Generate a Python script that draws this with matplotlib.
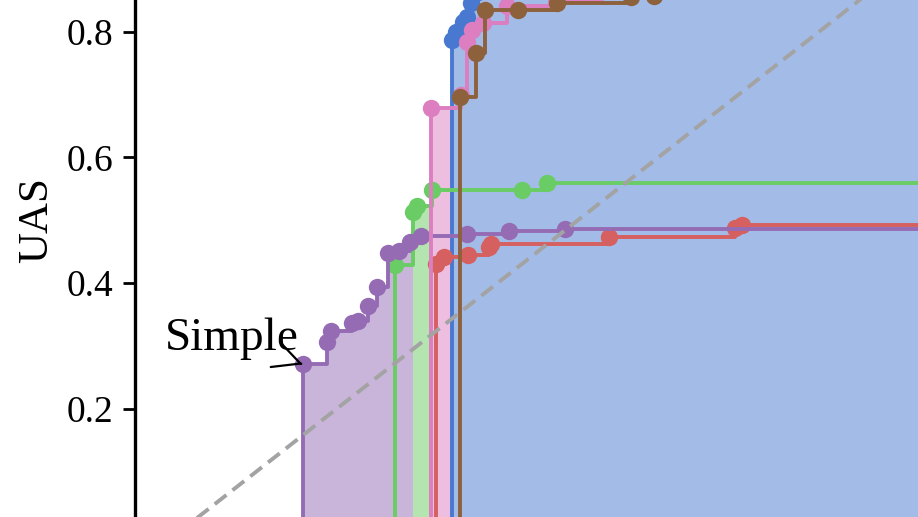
import numpy as np
import matplotlib
matplotlib.use("Agg")
import matplotlib.pyplot as plt

# ---------------- data ----------------
blue_x = [0.3427, 0.3483, 0.3570, 0.3619, 0.3669, 0.3756]
blue_y = [0.7866, 0.7994, 0.8153, 0.8232, 0.8455, 0.8630]

green_x = [0.2724, 0.2948, 0.2998, 0.3184, 0.4303, 0.4614]
green_y = [0.4286, 0.5130, 0.5225, 0.5480, 0.5485, 0.5596]

red_x = [0.3234, 0.3333, 0.3632, 0.3893, 0.3918, 0.5386, 0.6953, 0.7040]
red_y = [0.4302, 0.4414, 0.4446, 0.4573, 0.4620, 0.4737, 0.4870, 0.4925]

purple_x = [0.1576, 0.1874, 0.1924, 0.2185, 0.2264, 0.2384, 0.2496, 0.2637,
            0.2774, 0.2910, 0.3047, 0.3619, 0.4142, 0.4838]
purple_y = [0.2705, 0.3066, 0.3236, 0.3368, 0.3395, 0.3634, 0.3936, 0.4477,
            0.4509, 0.4653, 0.4748, 0.4780, 0.4828, 0.4854]

pink_x = [0.3172, 0.3545, 0.3619, 0.3682, 0.3818, 0.4117, 0.4726, 0.5274]
pink_y = [0.6784, 0.6992, 0.7838, 0.8026, 0.8138, 0.8400, 0.8479, 0.8630]

brown_x = [0.3532, 0.3731, 0.3843, 0.4254, 0.4735, 0.5659, 0.5945]
brown_y = [0.6959, 0.7655, 0.8344, 0.8344, 0.8460, 0.8551, 0.8566]

series_x = [blue_x, green_x, red_x, purple_x, pink_x, brown_x]
series_y = [blue_y, green_y, red_y, purple_y, pink_y, brown_y]
series_colors = ["#4878d0", "#6acc64", "#d65f5f", "#956cb4", "#dc7ec0", "#8c613c"]

y_ticks = [0.2, 0.4, 0.6, 0.8]
y_label = "UAS"
note_text = "Simple"
note_series = 3  # purple

# ---------------- layout ----------------
W, H = 918, 517
plt.rcParams['font.family'] = ['Liberation Serif', 'DejaVu Serif']
fig = plt.figure(figsize=(W / 100, H / 100), dpi=100)

xlim = (-0.051, 1.0)
ylim = (0.0, 0.95)
px_per_x = 804.0
px_per_y = 628.5
x0_px = 176.0
y0_px_from_top = 534.4
left_px = x0_px + px_per_x * xlim[0]
right_px = x0_px + px_per_x * xlim[1]
bottom_px = y0_px_from_top - px_per_y * ylim[0]
top_px = y0_px_from_top - px_per_y * ylim[1]
ax = fig.add_axes([left_px / W, (H - bottom_px) / H,
                   (right_px - left_px) / W, (bottom_px - top_px) / H])
ax.set_xlim(*xlim)
ax.set_ylim(*ylim)

# ---------------- fills: colour of the series on top of the envelope ----------------
grid = np.unique(np.concatenate([np.asarray(s, float) for s in series_x] + [[xlim[1]]]))

def step_val(xs, ys, g):
    xs = np.asarray(xs); ys = np.asarray(ys)
    idx = np.searchsorted(xs, g, side='right') - 1
    return np.where(idx >= 0, ys[np.clip(idx, 0, None)], -np.inf)

vals = np.vstack([step_val(sx, sy, grid) for sx, sy in zip(series_x, series_y)])
env = vals.max(axis=0)
arg = vals.argmax(axis=0)
valid = np.isfinite(env)
k = 0
n = len(grid) - 1
while k < n:
    if not valid[k]:
        k += 1
        continue
    s = arg[k]
    j = k
    while j + 1 < n and valid[j + 1] and arg[j + 1] == s:
        j += 1
    xs = grid[k:j + 2]
    ys = np.append(env[k:j + 1], env[j])
    ax.fill_between(xs, ylim[0], ys, step='post', color=series_colors[s],
                    alpha=0.5, linewidth=0, zorder=1)
    k = j + 1

# ---------------- step lines and markers ----------------
for i, (sx, sy, c) in enumerate(zip(series_x, series_y, series_colors)):
    lx = [sx[0]] + list(sx) + [xlim[1]]
    ly = [ylim[0]] + list(sy) + [sy[-1]]
    ax.plot(lx, ly, drawstyle='steps-post', color=c, lw=2.8, zorder=2 + i * 0.1)
    ax.plot(sx, sy, 'o', color=c, ms=12.5, mew=0, zorder=2.05 + i * 0.1)

# diagonal reference
ax.axline((0, 0), slope=1, color='#a3a3a3', lw=2.8, dashes=(3.8, 2.0), zorder=5)

# annotation
ax.annotate(note_text, xy=(series_x[note_series][0], series_y[note_series][0]),
            xytext=(-0.0137, 0.2934), textcoords='data', ha='left', va='baseline',
            fontsize=34, zorder=6,
            arrowprops=dict(arrowstyle='->', color='black', lw=1.6,
                            mutation_scale=48, shrinkB=3))

# axes styling
for side in ['top', 'right', 'bottom']:
    ax.spines[side].set_visible(False)
ax.spines['left'].set_linewidth(2.4)
ax.set_yticks(y_ticks)
ax.set_yticklabels([f"{t:.1f}" for t in y_ticks])
ax.tick_params(axis='y', labelsize=27, length=8.4, width=2.0, pad=7)
ax.set_xticks([])
ax.set_ylabel(y_label, fontsize=31, labelpad=8)
ax.yaxis.label.set_y((bottom_px - 220) / (bottom_px - top_px))
ax.patch.set_alpha(0)

fig.savefig("out.png", dpi=100)
